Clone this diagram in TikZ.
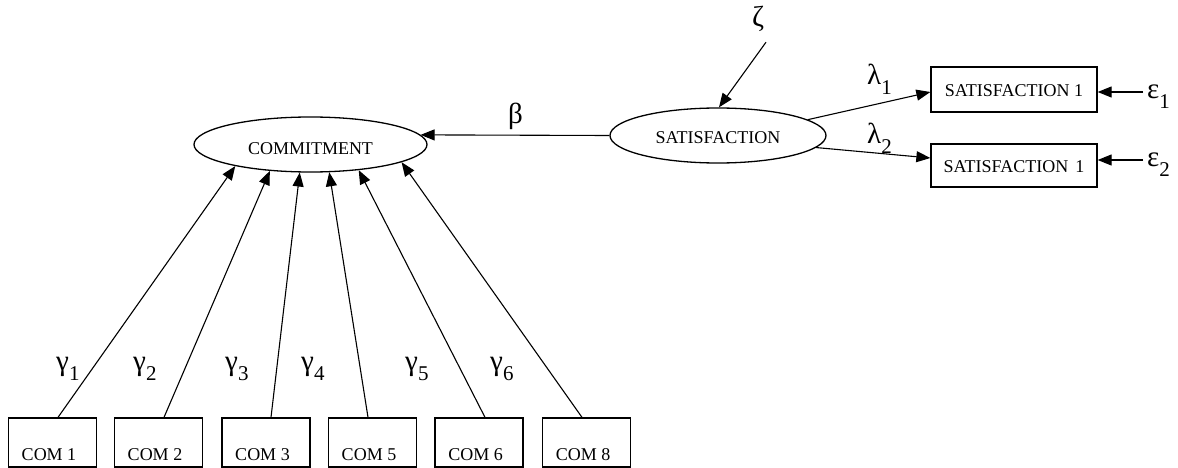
\documentclass[tikz,border=0pt]{standalone}
\usepackage{fontspec}
\setmainfont{Liberation Serif}
\usetikzlibrary{arrows.meta,shapes.geometric}
\newcommand\gsub[2]{#1\raisebox{-10pt}{\fontsize{21}{21}\selectfont #2}}
\begin{document}
\begin{tikzpicture}[x=1pt,y=-1pt,
  lat/.style={draw,ellipse,line width=1.3pt,inner sep=0pt,text depth=0pt,font=\fontsize{18}{18}\selectfont},
  obs/.style={draw,rectangle,line width=1.3pt,inner sep=0pt,text depth=0pt,font=\fontsize{18}{18}\selectfont},
  combox/.style={obs,minimum width=88pt,minimum height=49pt,text height=35pt},
  arr/.style={-{Triangle[length=14pt,width=11pt]},line width=1.1pt},
  gk/.style={inner sep=0pt,font=\fontsize{29}{29}\selectfont},
]
\useasboundingbox (0,0) rectangle (1178,468);

% latent variables
\node[lat,minimum width=233pt,minimum height=55pt,text height=21pt] (com) at (310.5,144.5) {COMMITMENT};
\node[lat,minimum width=216pt,minimum height=55pt,text height=15pt] (sat) at (718,135.5) {SATISFACTION};

% satisfaction indicators
\node[obs,minimum width=166pt,minimum height=45pt,text height=15pt] (s1) at (1014,89.5) {SATISFACTION 1};
\node[obs,minimum width=166pt,minimum height=43pt,text height=13pt] (s2) at (1014,165.5) {SATISFACTION\hspace{7pt}1};

% commitment indicators
\node[combox] (c1) at (52.5,442.5) {COM 1\hspace*{7pt}};
\node[combox] (c2) at (158.5,442.5) {COM 2\hspace*{7pt}};
\node[combox] (c3) at (266,442.5) {COM 3\hspace*{7pt}};
\node[combox] (c5) at (372.5,442.5) {COM 5\hspace*{7pt}};
\node[combox] (c6) at (479,442.5) {COM 6\hspace*{7pt}};
\node[combox] (c8) at (586.5,442.5) {COM 8\hspace*{7pt}};

% greek labels
\node[gk,anchor=base,text height=20pt,text depth=7pt] (zeta) at (758,27) {ζ};
\node[gk,anchor=base west] (beta) at (508,124) {β};
\node[gk,anchor=base west] (l1) at (867,85) {\gsub{λ}{1}};
\node[gk,anchor=base west] (l2) at (867,143) {\gsub{λ}{2}};
\node[gk,anchor=west,inner xsep=4pt,text height=13pt,text depth=0pt] (e1) at (1143,92) {\gsub{ε}{1}};
\node[gk,anchor=west,inner xsep=4pt,text height=13pt,text depth=0pt] (e2) at (1143,160) {\gsub{ε}{2}};
\node[gk,anchor=base west] (g1) at (56,370) {\gsub{γ}{1}};
\node[gk,anchor=base west] (g2) at (133,370) {\gsub{γ}{2}};
\node[gk,anchor=base west] (g3) at (225,370) {\gsub{γ}{3}};
\node[gk,anchor=base west] (g4) at (301,370) {\gsub{γ}{4}};
\node[gk,anchor=base west] (g5) at (405,370) {\gsub{γ}{5}};
\node[gk,anchor=base west] (g6) at (490,370) {\gsub{γ}{6}};

% connectors
\draw[arr] (sat.west) -- (com.5);
\draw[arr] ([shift={(8,8)}]zeta.south) -- (sat.88);
\draw[arr] (sat.10.5) -- ([yshift=-2.5pt]s1.west);
\draw[arr] (sat.-7.5) -- ([yshift=7.5pt]s2.west);
\draw[arr] (e1.west) -- ([yshift=-2.5pt]s1.east);
\draw[arr] (e2.west) -- ([yshift=5.5pt]s2.east);

\draw[arr] ([xshift=5.5pt]c1.north) -- (com.196.3);
\draw[arr] ([xshift=5.5pt]c2.north) -- (com.213.9);
\draw[arr] ([xshift=5pt]c3.north) -- (com.249.7);
\draw[arr] ([xshift=-4.5pt]c5.north) -- (com.-56.5);
\draw[arr] ([xshift=6pt]c6.north) -- (com.-28.5);
\draw[arr] ([xshift=-4.5pt]c8.north) -- (com.-11.4);
\end{tikzpicture}
\end{document}
